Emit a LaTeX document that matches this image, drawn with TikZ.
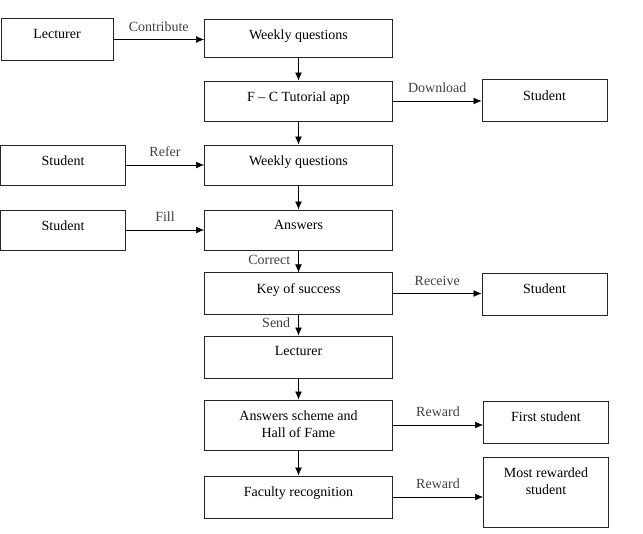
\documentclass[tikz,border=0pt]{standalone}
\usepackage{fontspec}
\setmainfont{Liberation Serif}
\usetikzlibrary{arrows.meta}

\begin{document}
\begin{tikzpicture}
  [x=0.75pt,y=-0.75pt,
   every node/.style={font=\fontsize{10.5}{12.75}\selectfont},
   box/.style={draw=black!85,line width=0.65pt,minimum width=141pt,minimum height=30pt,inner sep=0pt},
   side/.style={box,minimum width=93.75pt},
   txt/.style={anchor=north,inner sep=0pt,yshift=-8pt,align=center},
   lbl/.style={text=black!75,inner sep=3pt},
   >={Latex[length=6pt,width=5pt]}]
  \useasboundingbox (0,0) rectangle (643,533);

  % left column
  \node[side,minimum width=84pt,minimum height=31pt,label={[txt]north:Lecturer}] (lect1) at (57,39.5) {};
  \node[side,label={[txt]north:Student}] (stud2) at (63,165) {};
  \node[side,label={[txt]north:Student}] (stud3) at (63,230) {};

  % main column
  \node[box,minimum height=28.5pt,label={[txt]north:Weekly questions}] (week1) at (298.5,38) {};
  \node[box,label={[txt]north:F -- C Tutorial app}] (app) at (298.5,101) {};
  \node[box,label={[txt]north:Weekly questions}] (week2) at (298.5,165) {};
  \node[box,label={[txt]north:Answers}] (ans) at (298.5,230) {};
  \node[box,minimum height=31pt,label={[txt]north:Key of success}] (key) at (298.5,293.5) {};
  \node[box,minimum height=31.5pt,label={[txt]north:Lecturer}] (lect2) at (298.5,357) {};
  \node[box,minimum height=37.5pt,label={[txt]north:Answers scheme and\\Hall of Fame}] (scheme) at (298.5,425) {};
  \node[box,minimum height=31.5pt,label={[txt]north:Faculty recognition}] (faculty) at (298.5,497) {};

  % right column
  \node[side,minimum height=31pt,label={[txt]north:Student}] (stud1) at (544.5,100.5) {};
  \node[side,minimum height=31.5pt,label={[txt]north:Student}] (stud4) at (544.5,294) {};
  \node[side,minimum height=31.5pt,label={[txt]north:First student}] (first) at (546,422) {};
  \node[side,minimum height=52.5pt,label={[txt]north:Most rewarded\\student}] (most) at (546,492) {};

  \foreach \from/\to/\txt in {lect1/week1/Contribute,app/stud1/Download,stud2/week2/Refer,
      stud3/ans/Fill,key/stud4/Receive,scheme/first/Reward,faculty/most/Reward}
    \draw[->] (\from.east) -- (\from.east -| \to.west) node[midway,above=3pt,lbl] {\txt};

  \foreach \from/\to in {week1/app,app/week2,week2/ans,lect2/scheme,scheme/faculty}
    \draw[->] (\from) -- (\to);
  \draw[->] (ans) -- (key) node[pos=0.45,left=3pt,lbl] {Correct};
  \draw[->] (key) -- (lect2) node[pos=0.4,left=3pt,lbl] {Send};

\end{tikzpicture}
\end{document}
